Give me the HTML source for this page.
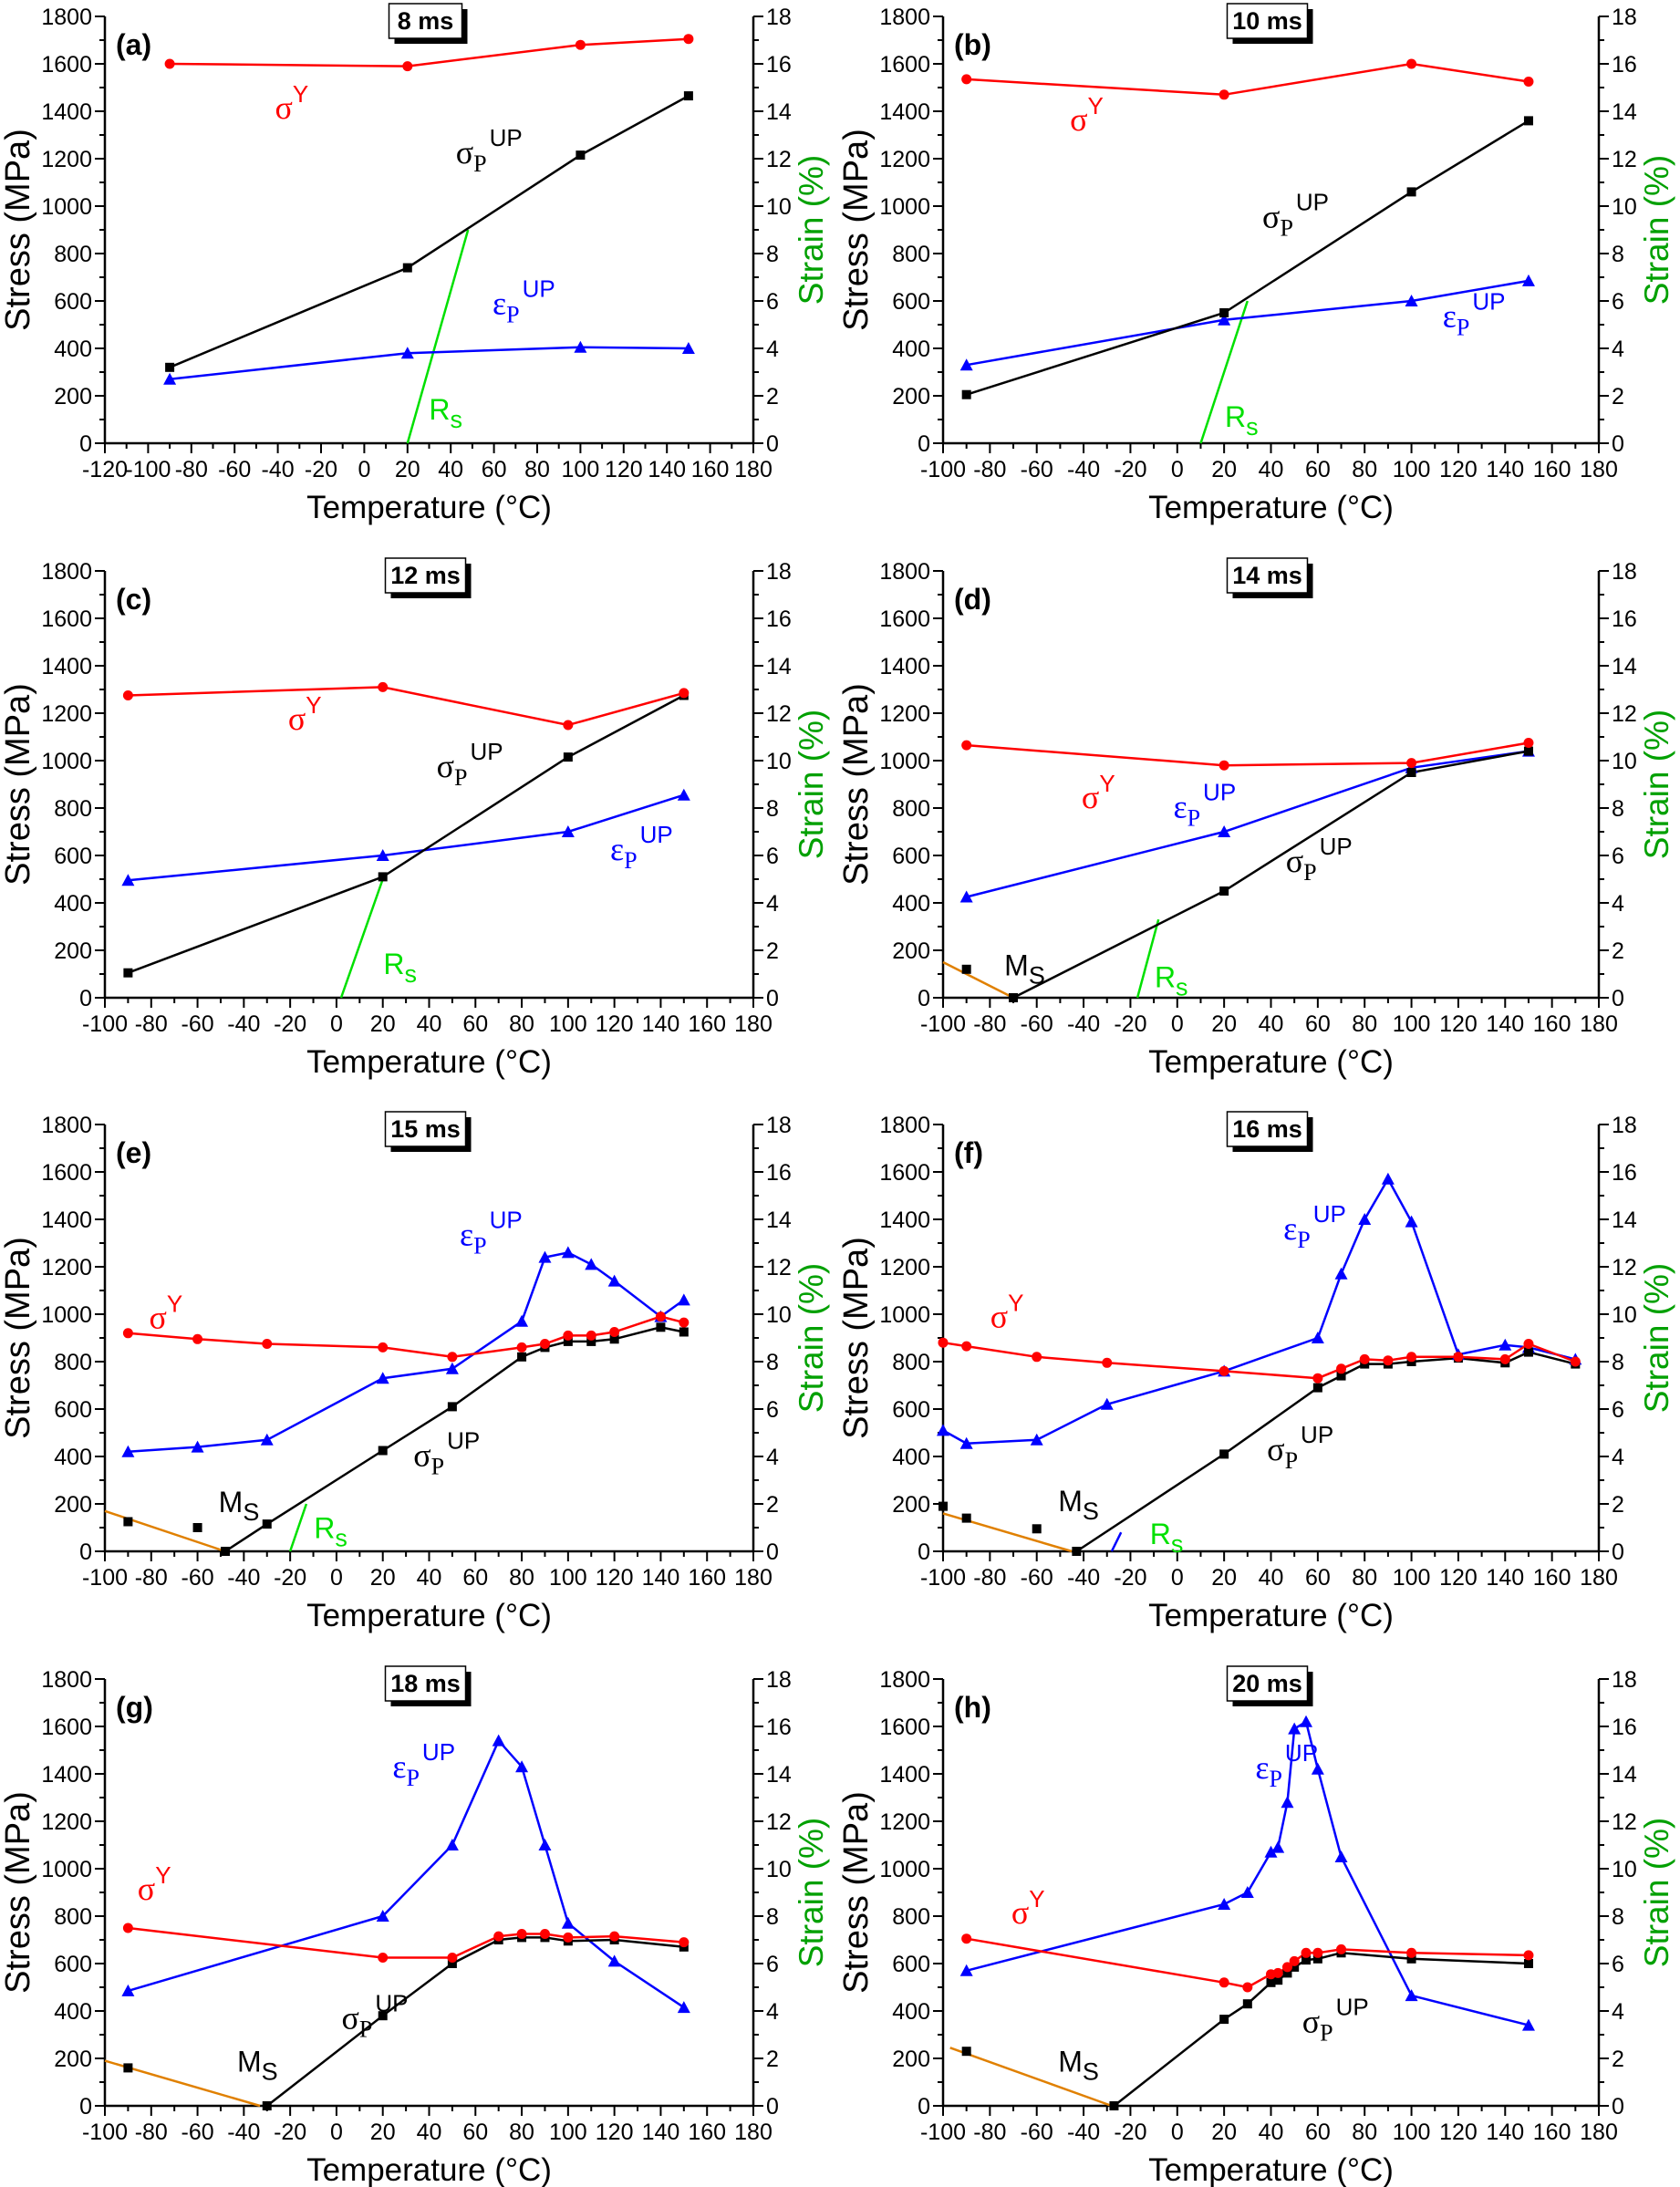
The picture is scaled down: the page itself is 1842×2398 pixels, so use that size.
<!DOCTYPE html>
<html><head><meta charset="utf-8"><style>
html,body{margin:0;padding:0;background:#fff;}
svg{display:block;}
</style></head><body>
<svg id="fig" width="1842" height="2398" viewBox="0 0 1842 2398" xmlns="http://www.w3.org/2000/svg"></svg>
<script>
// ---------- data (temperature °C, stress MPa, strain %) ----------
const aYT=[-90,20,100,150], aYV=[1600,1590,1680,1705];
const aPT=[-90,20,100,150], aPV=[320,740,1215,1465];
const aET=[-90,20,100,150], aEV=[2.7,3.8,4.05,4.0];
const aRsT=[20,48], aRsV=[0,900];

const bYT=[-90,20,100,150], bYV=[1535,1470,1600,1525];
const bPT=[-90,20,100,150], bPV=[205,550,1060,1360];
const bET=[-90,20,100,150], bEV=[3.3,5.2,6.0,6.85];
const bRsT=[10,30], bRsV=[0,600];

const cYT=[-90,20,100,150], cYV=[1275,1310,1150,1285];
const cPT=[-90,20,100,150], cPV=[105,510,1015,1275];
const cET=[-90,20,100,150], cEV=[4.95,6.0,7.0,8.55];
const cRsT=[2,20], cRsV=[0,500];

const dYT=[-90,20,100,150], dYV=[1065,980,990,1075];
const dPT=[-70,20,100,150], dPV=[0,450,950,1040];
const dXT=[-90], dXV=[120];
const dET=[-90,20,100,150], dEV=[4.25,7.0,9.7,10.4];
const dMsT=[-100,-70], dMsV=[150,0];
const dRsT=[-17,-8], dRsV=[0,330];

const eYT=[-90,-60,-30,20,50,80,90,100,110,120,140,150], eYV=[920,895,875,860,820,860,875,910,910,925,990,965];
const ePT=[-48,-30,20,50,80,90,100,110,120,140,150], ePV=[0,115,425,610,820,860,885,885,895,945,925];
const eXT=[-90,-60], eXV=[125,100];
const eET=[-90,-60,-30,20,50,80,90,100,110,120,140,150], eEV=[4.2,4.4,4.7,7.3,7.7,9.7,12.4,12.6,12.1,11.4,9.9,10.6];
const eMsT=[-100,-48], eMsV=[170,0];
const eRsT=[-20,-13], eRsV=[0,200];

const fYT=[-100,-90,-60,-30,20,60,70,80,90,100,120,140,150,170], fYV=[880,865,820,795,760,730,770,810,805,820,820,810,875,800];
const fPT=[-43,20,60,70,80,90,100,120,140,150,170], fPV=[0,410,690,740,790,790,800,815,795,840,790];
const fXT=[-100,-90,-60], fXV=[190,140,95];
const fET=[-100,-90,-60,-30,20,60,70,80,90,100,120,140,150,170], fEV=[5.1,4.55,4.7,6.2,7.6,9.0,11.7,14.0,15.7,13.9,8.3,8.7,8.6,8.1];
const fMsT=[-100,-45], fMsV=[160,0];
const fRsT=[-28,-24], fRsV=[0,80];

const gYT=[-90,20,50,70,80,90,100,120,150], gYV=[750,625,625,715,725,725,710,715,690];
const gPT=[-30,20,50,70,80,90,100,120,150], gPV=[0,380,600,700,710,710,695,700,670];
const gXT=[-90], gXV=[160];
const gET=[-90,20,50,70,80,90,100,120,150], gEV=[4.85,8.0,11.0,15.4,14.3,11.0,7.7,6.1,4.15];
const gMsT=[-100,-33], gMsV=[190,0];

const hYT=[-90,20,30,40,43,47,50,55,60,70,100,150], hYV=[705,520,500,555,560,585,610,645,645,660,645,635];
const hPT=[-27,20,30,40,43,47,50,55,60,70,100,150], hPV=[0,365,430,520,530,560,585,615,620,645,620,600];
const hXT=[-90], hXV=[230];
const hET=[-90,20,30,40,43,47,50,55,60,70,100,150], hEV=[5.7,8.5,9.0,10.7,10.9,12.8,15.9,16.2,14.2,10.5,4.65,3.4];
const hMsT=[-97,-28], hMsV=[245,0];

const panelLetters=['(a)','(b)','(c)','(d)','(e)','(f)','(g)','(h)'];
const panelTimes=['8 ms','10 ms','12 ms','14 ms','15 ms','16 ms','18 ms','20 ms'];
const xTickLabels=[-120,-100,-80,-60,-40,-20,0,20,40,60,80,100,120,140,160,180];
const yTickLabels=[0,200,400,600,800,1000,1200,1400,1600,1800];
const y2TickLabels=[0,2,4,6,8,10,12,14,16,18];

// ---------- layout ----------
const NS='http://www.w3.org/2000/svg';
const svg=document.getElementById('fig');
const COLX=[[115,826],[1034,1753]];
const ROWY=[18,626,1233,1841];
const PH=468;
const RED='#ff0000',BLUE='#0000ff',BLK='#000000',GRN='#00e000',ORG='#e08000';

function el(tag,attrs,parent){const e=document.createElementNS(NS,tag);for(const k in attrs)e.setAttribute(k,attrs[k]);(parent||svg).appendChild(e);return e;}

const panels=[
 {xmin:-120,Y:[aYT,aYV],P:[aPT,aPV],E:[aET,aEV],Rs:[aRsT,aRsV],
  lab:{Y:[-35,1370],P:[55,1180],E:[72,545],Rs:[35,100]}},
 {xmin:-100,Y:[bYT,bYV],P:[bPT,bPV],E:[bET,bEV],Rs:[bRsT,bRsV],
  lab:{Y:[-40,1320],P:[48,910],E:[125,490],Rs:[25,70]}},
 {xmin:-100,Y:[cYT,cYV],P:[cPT,cPV],E:[cET,cEV],Rs:[cRsT,cRsV],
  lab:{Y:[-15,1130],P:[55,930],E:[130,580],Rs:[25,100]}},
 {xmin:-100,Y:[dYT,dYV],P:[dPT,dPV],X:[dXT,dXV],E:[dET,dEV],Ms:[dMsT,dMsV],Rs:[dRsT,dRsV],
  lab:{Y:[-35,800],P:[58,530],E:[10,760],Ms:[-68,95],Rs:[-5,45]}},
 {xmin:-100,Y:[eYT,eYV],P:[ePT,ePV],X:[eXT,eXV],E:[eET,eEV],Ms:[eMsT,eMsV],Rs:[eRsT,eRsV],
  lab:{Y:[-75,940],P:[45,360],E:[65,1290],Ms:[-45,165],Rs:[-5,55]}},
 {xmin:-100,Y:[fYT,fYV],P:[fPT,fPV],X:[fXT,fXV],E:[fET,fEV],Ms:[fMsT,fMsV],Rs:[fRsT,fRsV],
  lab:{Y:[-74,945],P:[50,385],E:[57,1315],Ms:[-45,170],Rs:[-7,30]}},
 {xmin:-100,Y:[gYT,gYV],P:[gPT,gPV],X:[gXT,gXV],E:[gET,gEV],Ms:[gMsT,gMsV],
  lab:{Y:[-80,870],P:[14,325],E:[36,1385],Ms:[-37,145]}},
 {xmin:-100,Y:[hYT,hYV],P:[hPT,hPV],X:[hXT,hXV],E:[hET,hEV],Ms:[hMsT,hMsV],
  lab:{Y:[-65,770],P:[65,310],E:[45,1380],Ms:[-45,145]}}
];

function label(g,kind,x,y,color){
  const t=el('text',{x:x,y:y,fill:color,'font-family':'"Liberation Sans",sans-serif','font-size':'32'},g);
  if(kind==='Ms'||kind==='Rs'){
    
    
    const a=el('tspan',{},t);a.textContent=kind[0];
    const b=el('tspan',{dy:'9','font-size':'27'},t);b.textContent=kind==='Ms'?'S':'s';
    return;
  }
  
  
  const s=el('tspan',{'font-family':'"Liberation Serif",serif','font-size':'36'},t);
  s.textContent=kind==='E'?'ε':'σ';
  if(kind==='Y'){const u=el('tspan',{dy:'-18','font-size':'26'},t);u.textContent='Y';}
  else{
    const p=el('tspan',{dy:'9','font-size':'26','font-family':'"Liberation Serif",serif'},t);p.textContent='P';
    const u=el('tspan',{dy:'-28','font-size':'26',dx:'3'},t);u.textContent='UP';
  }
}

panels.forEach((p,i)=>{
  const col=i%2,row=Math.floor(i/2);
  const x0=COLX[col][0],x1=COLX[col][1],yb=ROWY[row]+PH,yt=ROWY[row];
  const sx=t=>x0+(t-p.xmin)/(180-p.xmin)*(x1-x0);
  const sy=v=>yb-v/1800*PH;
  const se=v=>yb-v/18*PH;
  const g=el('g',{});
  
  

  const ax=el('path',{d:`M${x0} ${yt}V${yb}H${x1}V${yt}`,fill:'none',stroke:'#000','stroke-width':2.5},g);
  
  
  for(let t=p.xmin;t<=180;t+=10){
    const major=(t%20===0);
    el('line',{x1:sx(t),x2:sx(t),y1:yb,y2:yb+(major?11:6),stroke:'#000','stroke-width':2},g);
  }
  xTickLabels.filter(t=>t>=p.xmin).forEach(t=>{
    const tx=el('text',{x:sx(t),y:yb+37,'text-anchor':'middle','font-family':'"Liberation Sans Narrow","Liberation Sans",sans-serif','font-size':'25',fill:'#000'},g);
    
    
    tx.textContent=t;
  });
  for(let v=0;v<=1800;v+=100){
    const major=(v%200===0);
    el('line',{x1:x0,x2:x0-(major?11:6),y1:sy(v),y2:sy(v),stroke:'#000','stroke-width':2},g);
    el('line',{x1:x1,x2:x1+(major?11:6),y1:sy(v),y2:sy(v),stroke:'#000','stroke-width':2},g);
  }
  yTickLabels.forEach(v=>{
    const tx=el('text',{x:x0-14,y:sy(v)+9,'text-anchor':'end','font-family':'"Liberation Sans Narrow","Liberation Sans",sans-serif','font-size':'25',fill:'#000'},g);
    
    
    tx.textContent=v;
  });
  y2TickLabels.forEach(v=>{
    const tx=el('text',{x:x1+14,y:se(v)+9,'text-anchor':'start','font-family':'"Liberation Sans Narrow","Liberation Sans",sans-serif','font-size':'25',fill:'#000'},g);
    
    
    tx.textContent=v;
  });
  const xt=el('text',{x:(x0+x1)/2,y:yb+82,'text-anchor':'middle','font-family':'"Liberation Sans",sans-serif','font-size':'35',fill:'#000'},g);
  
  
  xt.textContent='Temperature (°C)';
  const ym=(yt+yb)/2;
  const yl=el('text',{x:0,y:0,transform:`translate(${x0-83},${ym}) rotate(-90)`,'text-anchor':'middle','font-family':'"Liberation Sans",sans-serif','font-size':'38',fill:'#000'},g);
  
  
  yl.textContent='Stress (MPa)';
  const y2=el('text',{x:0,y:0,transform:`translate(${x1+76},${ym}) rotate(-90)`,'text-anchor':'middle','font-family':'"Liberation Sans",sans-serif','font-size':'37',fill:'#00a000'},g);
  
  
  y2.textContent='Strain (%)';

  const pl=el('text',{x:x0+12,y:yt+42,'font-family':'"Liberation Sans",sans-serif','font-weight':'bold','font-size':'32',fill:'#000'},g);
  
  
  pl.textContent=panelLetters[i];
  const bw=panelTimes[i].length>4?88:80, bx=(x0+x1)/2-bw/2-4, by=yt-14;
  el('rect',{x:bx+6,y:by+6,width:bw,height:38,fill:'#000'},g);
  const br=el('rect',{x:bx,y:by,width:bw,height:38,fill:'#fff',stroke:'#000','stroke-width':1.5},g);
  
  
  const bt=el('text',{x:bx+bw/2,y:by+28,'text-anchor':'middle','font-family':'"Liberation Sans Narrow","Liberation Sans",sans-serif','font-weight':'bold','font-size':'27',fill:'#000'},g);
  
  
  bt.textContent=panelTimes[i];

  const line=(T,V,f,color,w,name)=>{
    const d=T.map((t,k)=>(k?'L':'M')+sx(t).toFixed(1)+' '+f(V[k]).toFixed(1)).join('');
    const pa=el('path',{d:d,fill:'none',stroke:color,'stroke-width':w},g);
    
    
  };
  if(p.Ms) line(p.Ms[0],p.Ms[1],sy,ORG,2.5,'ms-line');
  if(p.Rs) line(p.Rs[0],p.Rs[1],sy,i===5?BLUE:GRN,2.5,'rs-line');
  line(p.E[0],p.E[1],se,BLUE,2.5,'eps-p-line');
  line(p.P[0],p.P[1],sy,BLK,2.5,'sigma-p-line');
  line(p.Y[0],p.Y[1],sy,RED,2.5,'sigma-y-line');
  p.E[0].forEach((t,k)=>{const x=sx(t),y=se(p.E[1][k]);
    const m=el('path',{d:`M${x} ${y-7}L${x+7} ${y+6}L${x-7} ${y+6}Z`,fill:BLUE},g);
    
    });
  const sq=(T,V)=>T.forEach((t,k)=>{
    const m=el('rect',{x:sx(t)-5,y:sy(V[k])-5,width:10,height:10,fill:BLK},g);
    
    });
  sq(p.P[0],p.P[1]); if(p.X) sq(p.X[0],p.X[1]);
  p.Y[0].forEach((t,k)=>{
    const m=el('circle',{cx:sx(t),cy:sy(p.Y[1][k]),r:5.5,fill:RED},g);
    
    });

  const L=p.lab;
  label(g,'Y',sx(L.Y[0])-15,sy(L.Y[1]),RED);
  label(g,'P',sx(L.P[0])-30,sy(L.P[1]),BLK);
  label(g,'E',sx(L.E[0])-30,sy(L.E[1]),BLUE);
  if(L.Ms) label(g,'Ms',sx(L.Ms[0])-15,sy(L.Ms[1]),BLK);
  if(L.Rs) label(g,'Rs',sx(L.Rs[0])-12,sy(L.Rs[1]),GRN);
});
</script>
</body></html>
